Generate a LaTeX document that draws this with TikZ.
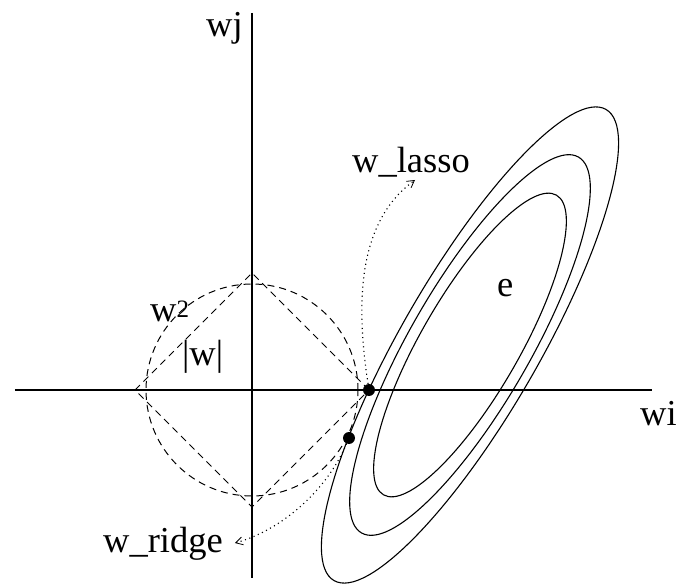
\documentclass[tikz,border=0pt]{standalone}
\usepackage{fontspec}
\setmainfont{Liberation Serif}
\usetikzlibrary{arrows.meta}

\tikzset{
  lbl/.style={inner sep=0pt, anchor=base west, font=\fontsize{36.5}{42}\selectfont},
  dashline/.style={line width=1pt, dash pattern=on 7pt off 5pt},
  dotline/.style={line width=1.1pt, dash pattern=on 1.1pt off 3.5pt, -{Straight Barb[length=7pt,width=8pt,line width=0.8pt]}},
  soln/.style={circle, fill=black, inner sep=0pt, minimum size=12pt}
}

\begin{document}
\begin{tikzpicture}[x=1pt,y=1pt]
\useasboundingbox (-252,-194) rectangle (426,390);

% axes
\draw[line width=1.1pt] (-237,0) -- (400,0);
\draw[line width=1.1pt] (0,377) -- (0,-188);
\node[lbl] (wjlbl) at (-46,353) {wj};
\node[lbl] (wilbl) at (388,-35) {wi};

% constraint regions
\draw[dashline] (0,0) circle (106pt);
\draw[dashline] (117,0) -- (0,117) -- (-117,0) -- (0,-117) -- cycle;
\node[lbl] (sqlbl) at (-102,68) {w\raisebox{4pt}{\fontsize{25}{25}\selectfont 2}};
\node[lbl] (abslbl) at (-70,25) {|w|};

% error contours
\coordinate (ctr) at (218,45);
\draw[line width=1.1pt, rotate around={60:(ctr)}] (ctr) ellipse [x radius=272pt, y radius=69pt];
\draw[line width=1.1pt, rotate around={60:(ctr)}] (ctr) ellipse [x radius=217pt, y radius=60pt];
\draw[line width=1.1pt, rotate around={60:(ctr)}] (ctr) ellipse [x radius=173pt, y radius=49pt];
\node[lbl] (elbl) at (245,93) {e};

% solutions
\node[soln] (lassodot) at (117,0) {};
\node[soln] (ridgedot) at (97,-48) {};
\node[lbl] (lassolbl) at (100,217) {w\_lasso};
\node[lbl] (ridgelbl) at (-149,-162) {w\_ridge};
\coordinate (lassotip) at (163,210);
\coordinate (ridgetip) at (-17,-153);

\draw[dotline] (lassodot) .. controls (100,110) and (115,175) .. (lassotip);
\draw[dotline] (ridgedot) .. controls (75,-100) and (30,-140) .. (ridgetip);
\end{tikzpicture}
\end{document}
